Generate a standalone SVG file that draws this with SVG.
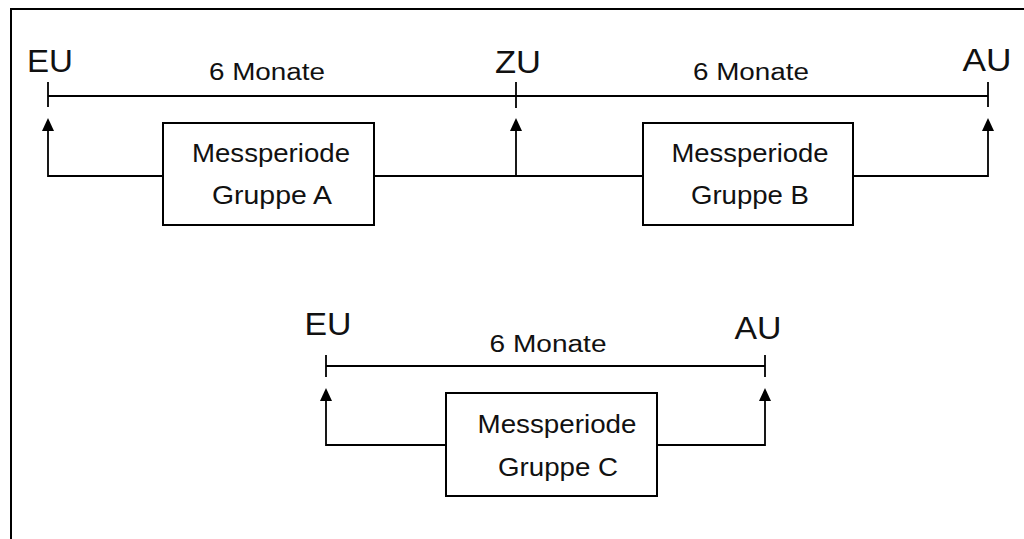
<svg xmlns="http://www.w3.org/2000/svg" width="1024" height="539" viewBox="0 0 1024 539">
<style>
  .frame { fill: none; stroke: #000; stroke-width: 2; }
  .ln { fill: none; stroke: #000; stroke-width: 1.8; }
  .head { fill: #000; stroke: none; }
  .box { fill: #fff; stroke: #000; stroke-width: 2; }
  .lbl { font-family: "Liberation Sans", Arial, sans-serif; font-size: 31px; fill: #111; text-anchor: middle; }
  .dur { font-family: "Liberation Sans", Arial, sans-serif; font-size: 23px; fill: #111; text-anchor: middle; }
  .txt { font-family: "Liberation Sans", Arial, sans-serif; font-size: 25px; fill: #111; text-anchor: middle; }
</style>
<defs>
  <path id="ah" class="head" d="M0,0 L6,13 L-6,13 Z"/>
</defs>
<rect width="1024" height="539" fill="#fff"/>
<path class="frame" d="M11,539 L11,9 L1024,9"/>

<g id="connectors">
  <!-- top timeline -->
  <path class="ln" d="M48,96 L988,96"/>
  <path class="ln" d="M48,82 L48,107 M516,82 L516,108 M988,82 L988,107"/>
  <!-- bottom timeline -->
  <path class="ln" d="M326,366 L765,366"/>
  <path class="ln" d="M326,355 L326,377 M765,355 L765,377"/>
  <!-- top feedback lines -->
  <path class="ln" d="M163,176 L48,176 L48,128"/>
  <use href="#ah" x="48" y="118"/>
  <path class="ln" d="M374,176 L642,176"/>
  <path class="ln" d="M516,176 L516,128"/>
  <use href="#ah" x="516" y="118"/>
  <path class="ln" d="M853,176 L988,176 L988,128"/>
  <use href="#ah" x="988" y="118"/>
  <!-- bottom feedback lines -->
  <path class="ln" d="M446,445 L326,445 L326,398"/>
  <use href="#ah" x="326" y="388"/>
  <path class="ln" d="M657,445 L765,445 L765,398"/>
  <use href="#ah" x="765" y="388"/>
</g>

<g id="labels">
  <text class="lbl" x="50" y="72" textLength="46" lengthAdjust="spacingAndGlyphs">EU</text>
  <text class="lbl" x="518" y="73" textLength="46" lengthAdjust="spacingAndGlyphs">ZU</text>
  <text class="lbl" x="987" y="71" textLength="49" lengthAdjust="spacingAndGlyphs">AU</text>
  <text class="dur" x="267" y="80" textLength="116" lengthAdjust="spacingAndGlyphs">6 Monate</text>
  <text class="dur" x="751" y="80" textLength="116" lengthAdjust="spacingAndGlyphs">6 Monate</text>
  <text class="lbl" x="328" y="335" textLength="47" lengthAdjust="spacingAndGlyphs">EU</text>
  <text class="lbl" x="758" y="339" textLength="47" lengthAdjust="spacingAndGlyphs">AU</text>
  <text class="dur" x="548" y="352" textLength="117" lengthAdjust="spacingAndGlyphs">6 Monate</text>
</g>

<g id="node-a">
  <rect class="box" x="163" y="123" width="211" height="102"/>
  <text class="txt" x="271" y="162" textLength="158" lengthAdjust="spacingAndGlyphs">Messperiode</text>
  <text class="txt" x="272" y="204" textLength="120" lengthAdjust="spacingAndGlyphs">Gruppe A</text>
</g>
<g id="node-b">
  <rect class="box" x="643" y="123" width="210" height="102"/>
  <text class="txt" x="750" y="162" textLength="157" lengthAdjust="spacingAndGlyphs">Messperiode</text>
  <text class="txt" x="750" y="204" textLength="118" lengthAdjust="spacingAndGlyphs">Gruppe B</text>
</g>
<g id="node-c">
  <rect class="box" x="446" y="393" width="211" height="103"/>
  <text class="txt" x="557" y="433" textLength="159" lengthAdjust="spacingAndGlyphs">Messperiode</text>
  <text class="txt" x="558" y="476" textLength="120" lengthAdjust="spacingAndGlyphs">Gruppe C</text>
</g>
</svg>
